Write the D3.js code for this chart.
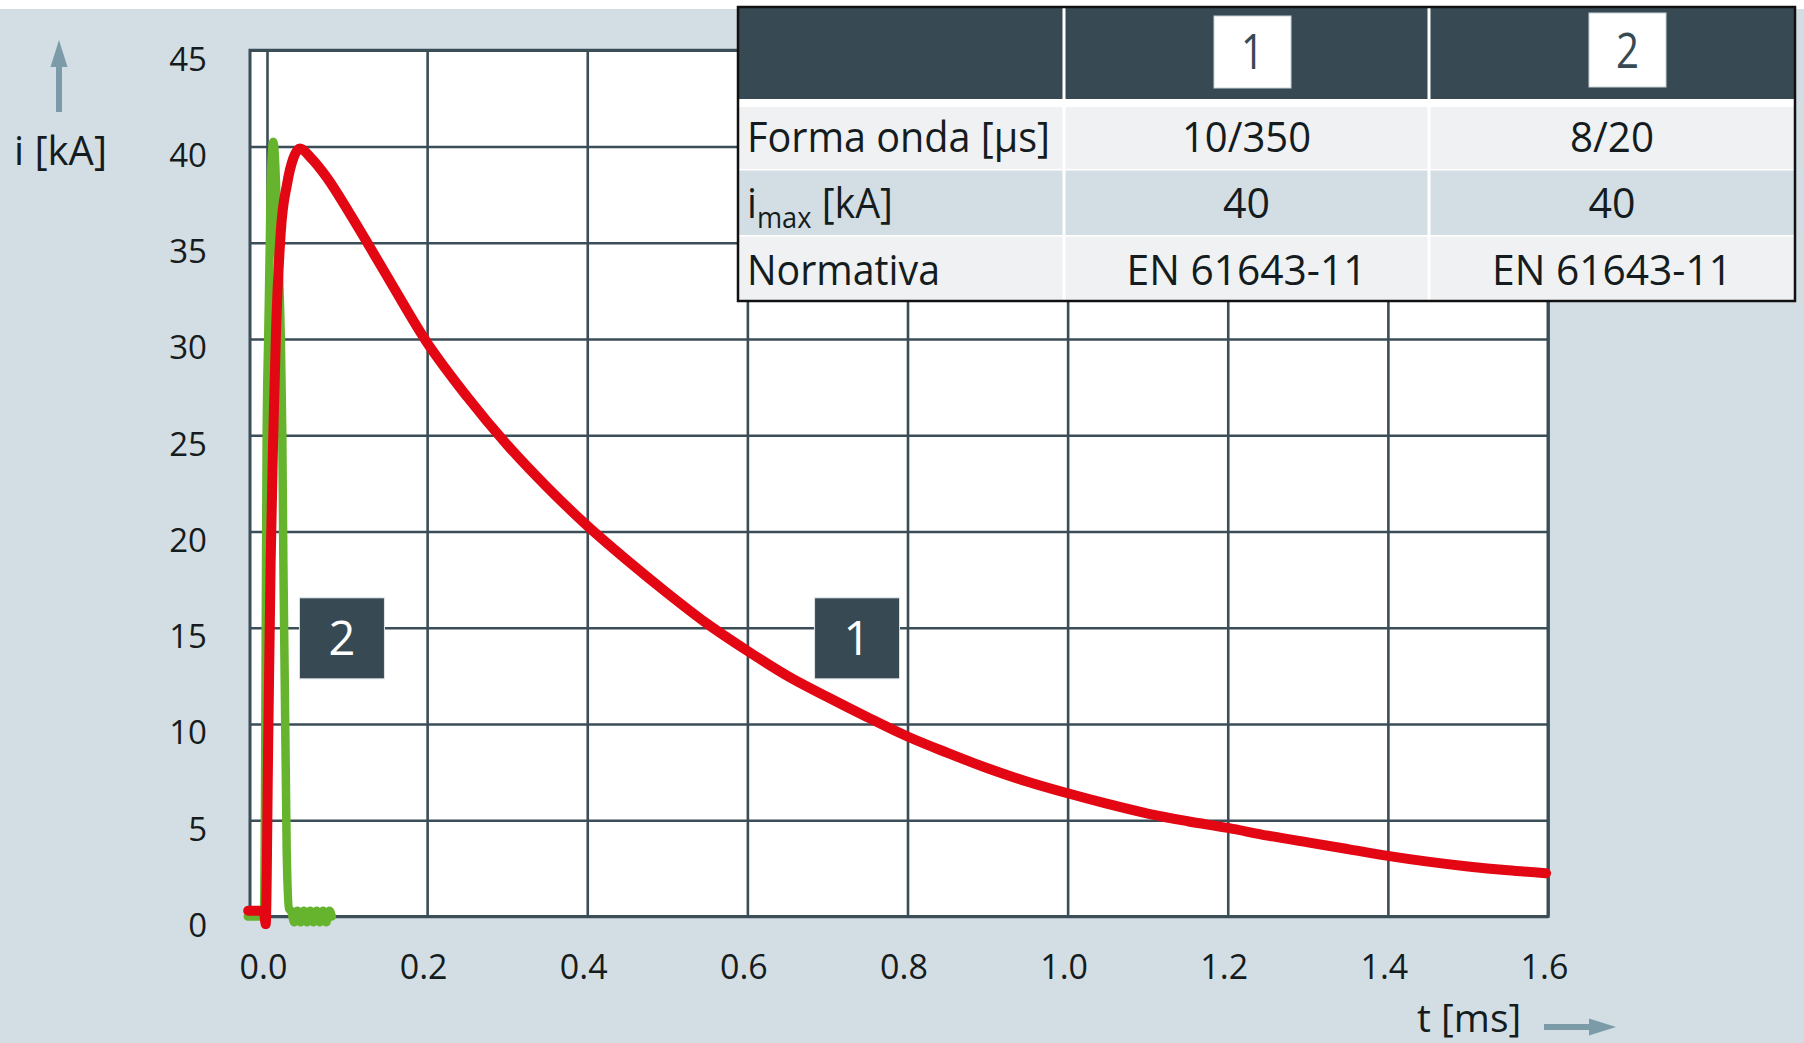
<!DOCTYPE html>
<html><head><meta charset="utf-8">
<script src="https://cdn.jsdelivr.net/npm/d3@7"></script>
<style>
body{margin:0;background:#fff}
svg{display:block}
text{font-family:"Open Sans","Noto Sans",sans-serif}
</style>
</head><body>
<svg id="chart" width="1804" height="1043"></svg>
<script>
// ---------- data ----------
const xTicks = [0, 0.2, 0.4, 0.6, 0.8, 1.0, 1.2, 1.4, 1.6];
const xTickLabels = ["0.0","0.2","0.4","0.6","0.8","1.0","1.2","1.4","1.6"];
const yTicks = [0, 5, 10, 15, 20, 25, 30, 35, 40, 45];
const xLabel = "t [ms]";
const yLabel = "i [kA]";

// wave 1: 10/350 µs (red)
const wave1T = [-0.0235,-0.004,-0.0016,0.0015,0.0046,0.0079,0.0112,0.0171,0.0253,0.033,0.0412,0.055,0.0745,0.1036,0.1452,0.1985,0.25,0.30,0.35,0.40,0.45,0.50,0.55,0.60,0.65,0.70,0.75,0.80,0.85,0.90,0.95,1.00,1.05,1.10,1.15,1.20,1.25,1.30,1.35,1.40,1.45,1.50,1.55,1.5976];
const wave1I = [0.3,0.3,-0.4,9,18.5,25.1,30.3,35.5,38.1,39.4,39.9,39.4,38.4,36.5,33.6,29.9,27.0,24.5,22.3,20.3,18.5,16.8,15.2,13.8,12.5,11.4,10.35,9.35,8.5,7.7,7.0,6.4,5.85,5.35,4.95,4.6,4.2,3.85,3.5,3.15,2.85,2.6,2.4,2.25];

// wave 2: 8/20 µs (green)
const wave2T = [-0.024,-0.004,-0.0025,-0.0012,-0.0004,0.0016,0.0037,0.0046,0.0079,0.0112,0.0129,0.0171,0.0191,0.0204,0.0246,0.0275,0.030,0.034,0.038,0.042,0.046,0.050,0.054,0.058,0.062,0.066,0.070,0.074,0.078,0.081];
const wave2I = [0.0,0.0,6,18.5,25.1,30.3,35.5,38.1,40.25,38.1,35.5,30.3,25.1,18.5,3.4,0.4,0.3,-0.3,0.3,-0.3,0.3,-0.3,0.3,-0.3,0.3,-0.3,0.3,-0.3,0.3,0.0];

// table
const tableHeaders = ["1","2"];
const rowLabels = ["Forma onda [µs]","i|max| [kA]","Normativa"];
const col1Values = ["10/350","40","EN 61643-11"];
const col2Values = ["8/20","40","EN 61643-11"];
const markerLabels = ["1","2"];
const markerAnchorT = [0.737, 0.0936];
const markerAnchorI = [14.45, 14.45];

// ---------- drawing ----------
const svg = d3.select("#chart");
const BG = "#d3dee4", GRID = "#3b4d56", DARK = "#374a53", TXT = "#151c20";
const ARROW = "#7b9ba9";

svg.append("rect").attr("width",1804).attr("height",1043).attr("fill",BG);
svg.append("rect").attr("width",1804).attr("height",9).attr("fill","#fff");

const x = d3.scaleLinear().domain([0,1.6]).range([267,1548]);
const y = d3.scaleLinear().domain([0,45]).range([916.5,50.25]);
const plotL = 250, plotR = x(1.6), plotT = y(45), plotB = y(0);

svg.append("rect").attr("x",plotL).attr("y",plotT)
  .attr("width",plotR-plotL).attr("height",plotB-plotT).attr("fill","#fff");

// y axis + horizontal grid
const gy = svg.append("g").attr("transform",`translate(${plotL},0)`)
  .call(d3.axisLeft(y).tickValues(yTicks).tickSize(-(plotR-plotL)).tickPadding(43).tickFormat(d=>d));
gy.select(".domain").remove();
gy.selectAll(".tick line").attr("stroke",GRID).attr("stroke-width",2.6);
gy.selectAll(".tick text").attr("font-size",33).attr("fill",TXT).attr("dy","0.6em")
  .attr("font-family",'"Open Sans","Noto Sans",sans-serif');

// x axis + vertical grid
const gx = svg.append("g").attr("transform",`translate(0,${plotB})`)
  .call(d3.axisBottom(x).tickValues(xTicks).tickSize(-(plotB-plotT)).tickPadding(38)
    .tickFormat((d,i)=>xTickLabels[i]));
gx.select(".domain").remove();
gx.selectAll(".tick line").attr("stroke",GRID).attr("stroke-width",2.6);
gx.selectAll(".tick text").attr("font-size",34).attr("fill",TXT).attr("dx",-4)
  .attr("font-family",'"Open Sans","Noto Sans",sans-serif');

// plot frame
svg.append("rect").attr("x",plotL).attr("y",plotT)
  .attr("width",plotR-plotL).attr("height",plotB-plotT)
  .attr("fill","none").attr("stroke",GRID).attr("stroke-width",3);

// curves
const line = d3.line().x(d=>x(d[0])).y(d=>y(d[1])).curve(d3.curveMonotoneX);
const w2 = wave2T.map((t,i)=>[t,wave2I[i]]);
const w1 = wave1T.map((t,i)=>[t,wave1I[i]]);
svg.append("path").datum(w2).attr("d",line).attr("fill","none")
  .attr("stroke","#66b32e").attr("stroke-width",8.5).attr("stroke-linecap","round").attr("stroke-linejoin","round");
svg.append("path").datum(w1).attr("d",line).attr("fill","none")
  .attr("stroke","#e30613").attr("stroke-width",10).attr("stroke-linecap","round").attr("stroke-linejoin","round");

// marker boxes
markerLabels.forEach((lab,i)=>{
  const cx = x(markerAnchorT[i]), cy = y(markerAnchorI[i]);
  svg.append("rect").attr("x",cx-42.5).attr("y",cy-40.5).attr("width",85).attr("height",81)
    .attr("fill",DARK).attr("stroke","#dfe5e9").attr("stroke-width",1);
  svg.append("text").attr("x",cx).attr("y",cy+17).attr("text-anchor","middle")
    .attr("font-size",47).attr("fill","#fff").text(lab);
});

// axis titles & arrows
svg.append("text").attr("x",14).attr("y",165).attr("font-size",40).attr("fill",TXT).text(yLabel);
svg.append("text").attr("x",1417).attr("y",1032).attr("font-size",39).attr("fill",TXT).text(xLabel);
svg.append("line").attr("x1",59).attr("x2",59).attr("y1",112).attr("y2",62)
  .attr("stroke",ARROW).attr("stroke-width",6);
svg.append("path").attr("d","M59,40 L50.5,67 L67.5,67 Z").attr("fill",ARROW);
svg.append("line").attr("x1",1544).attr("x2",1592).attr("y1",1027).attr("y2",1027)
  .attr("stroke",ARROW).attr("stroke-width",6);
svg.append("path").attr("d","M1616,1027 L1589,1018.5 L1589,1035.5 Z").attr("fill",ARROW);

// table
const T = {x0:738, x1:1064, x2:1429, x3:1795, y0:7, hB:99};
const rows = [[107,169],[170.5,235],[236.5,301]];
const rowFill = ["#eff1f3", BG, "#eff1f3"];
const tg = svg.append("g");
tg.append("rect").attr("x",T.x0).attr("y",T.y0).attr("width",T.x3-T.x0).attr("height",301-T.y0).attr("fill","#fff");
tg.append("rect").attr("x",T.x0).attr("y",T.y0).attr("width",T.x3-T.x0).attr("height",T.hB-T.y0).attr("fill",DARK);
rows.forEach((r,i)=>{
  tg.append("rect").attr("x",T.x0).attr("y",r[0]).attr("width",T.x3-T.x0).attr("height",r[1]-r[0]).attr("fill",rowFill[i]);
});
[T.x1,T.x2].forEach(cx=>{
  tg.append("line").attr("x1",cx).attr("x2",cx).attr("y1",T.y0).attr("y2",301)
    .attr("stroke","#fff").attr("stroke-width",3);
});
// header boxes
const hdrBoxes = [[1214,16,77,72,69],[1589,13,77,74,68]];
tableHeaders.forEach((h,i)=>{
  const b = hdrBoxes[i];
  tg.append("rect").attr("x",b[0]).attr("y",b[1]).attr("width",b[2]).attr("height",b[3])
    .attr("fill","#fff").attr("stroke","#c9d2d7").attr("stroke-width",1);
  tg.append("text").attr("x",b[0]+b[2]/2).attr("y",b[4]).attr("text-anchor","middle")
    .attr("font-size",50).attr("fill",DARK).attr("textLength",23).attr("lengthAdjust","spacingAndGlyphs").text(h);
});
const baselines = [152, 218, 285];
const labelWidths = [303, null, 193];
rowLabels.forEach((lab,i)=>{
  const t = tg.append("text").attr("x",747).attr("y",baselines[i]).attr("font-size",42)
    .attr("font-weight",500).attr("fill",TXT);
  if (lab.includes("|")) {
    const parts = lab.split("|");
    t.append("tspan").text(parts[0]);
    t.append("tspan").attr("font-size",29).attr("dy",10).text(parts[1]);
    t.append("tspan").attr("dy",-10).text(parts[2]);
    t.attr("textLength",146).attr("lengthAdjust","spacingAndGlyphs");
  } else {
    t.text(lab).attr("textLength",labelWidths[i]).attr("lengthAdjust","spacingAndGlyphs");
  }
});
const valWidths = {"10/350":129,"8/20":84,"40":47,"EN 61643-11":240};
[[col1Values,(T.x1+T.x2)/2],[col2Values,(T.x2+T.x3)/2]].forEach(([vals,cx])=>{
  vals.forEach((v,i)=>{
    tg.append("text").attr("x",cx).attr("y",baselines[i]).attr("text-anchor","middle")
      .attr("font-size",42).attr("font-weight",500).attr("fill",TXT)
      .attr("textLength",valWidths[v]).attr("lengthAdjust","spacingAndGlyphs").text(v);
  });
});
tg.append("rect").attr("x",T.x0).attr("y",T.y0).attr("width",T.x3-T.x0).attr("height",301-T.y0)
  .attr("fill","none").attr("stroke","#111").attr("stroke-width",2.5);
</script>
</body></html>
